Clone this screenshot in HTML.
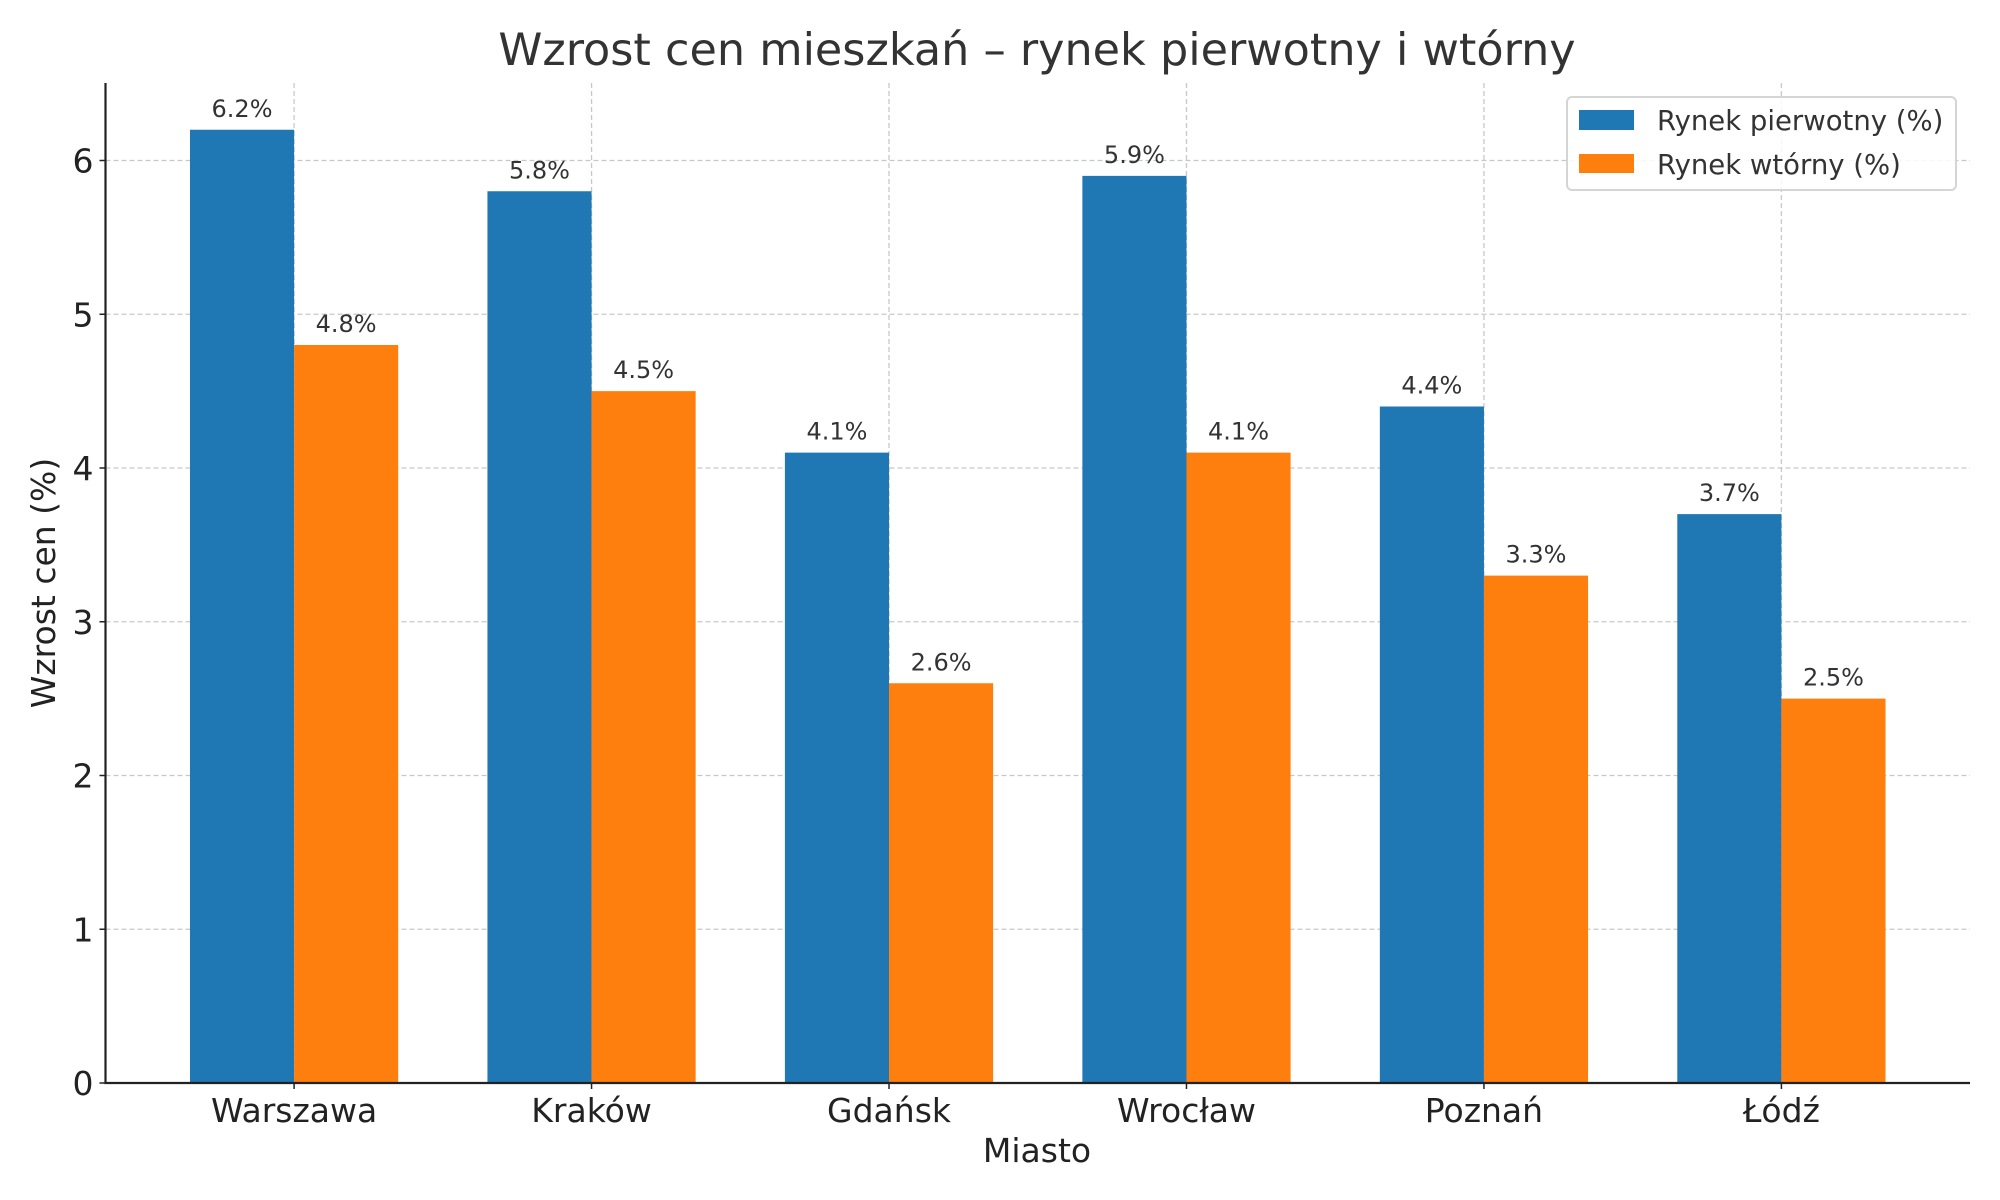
<!DOCTYPE html>
<html><head><meta charset="utf-8"><style>
html,body{margin:0;padding:0;background:#fff}
svg{display:block;font-family:"DejaVu Sans","Liberation Sans",sans-serif}
</style></head><body>
<svg id="chart" width="2000" height="1200" xmlns="http://www.w3.org/2000/svg">
<text x="1037" y="65" font-size="44.5" fill="#333" text-anchor="middle">Wzrost cen mieszkań – rynek pierwotny i wtórny</text>
<g id="grid"></g>
<g id="bars"></g>
<g id="axes"></g>
<text x="1037" y="1162" font-size="33" fill="#222" text-anchor="middle">Miasto</text>
<text transform="translate(55,583) rotate(-90)" font-size="33" fill="#222" text-anchor="middle">Wzrost cen (%)</text>
<g>
<rect x="1567" y="97" width="389" height="93" rx="5" fill="#fff" fill-opacity="0.85" stroke="#d5d5d5" stroke-width="2"/>
<rect x="1579" y="110" width="55" height="20" fill="#1f77b4"/>
<text x="1657" y="130" font-size="27.5" fill="#333">Rynek pierwotny (%)</text>
<rect x="1579" y="154" width="55" height="19" fill="#ff7f0e"/>
<text x="1657" y="174" font-size="27.5" fill="#333">Rynek wtórny (%)</text>
</g>
</svg>
<script>
const categories = ["Warszawa","Kraków","Gdańsk","Wrocław","Poznań","Łódź"];
const primaryValues = [6.2,5.8,4.1,5.9,4.4,3.7];
const secondaryValues = [4.8,4.5,2.6,4.1,3.3,2.5];
const yTicks = [0,1,2,3,4,5,6];

const NS="http://www.w3.org/2000/svg";
const L=105.5,R=1970,T=83,B=1083,yMax=(B-T)/153.75;
const xMin=-0.634, xMax=categories.length-1+0.634;
const step=(R-L)/(xMax-xMin);
const bw=step*0.35;
const xc=i=>L+(i-xMin)*step;
const y=v=>B-(v/yMax)*(B-T);
function mk(tag,attrs,parent){const e=document.createElementNS(NS,tag);for(const k in attrs)e.setAttribute(k,attrs[k]);parent.appendChild(e);return e;}
const grid=document.getElementById('grid'),bars=document.getElementById('bars'),axes=document.getElementById('axes');
yTicks.forEach(t=>{
  const g=mk('line',{x1:L,x2:R,y1:y(t),y2:y(t),stroke:'#c8c8c8','stroke-width':1.3,'stroke-dasharray':'5,3'},grid);
  
  
  const tk=mk('line',{x1:L-6,x2:L,y1:y(t),y2:y(t),stroke:'#222','stroke-width':1.5},axes);
  
  
  const tl=mk('text',{x:L-12,y:y(t)+12,'font-size':33,fill:'#222','text-anchor':'end'},axes);
  tl.textContent=t;
  
  
});
categories.forEach((c,i)=>{
  const gl=mk('line',{x1:xc(i),x2:xc(i),y1:T,y2:B,stroke:'#c8c8c8','stroke-width':1.3,'stroke-dasharray':'5,3'},grid);
  
  
  [[primaryValues,'#1f77b4',-1,'bar-primary'],[secondaryValues,'#ff7f0e',0,'bar-secondary']].forEach(([arr,col,off,nm])=>{
    const x0=xc(i)+off*bw;
    const r=mk('rect',{x:x0,y:y(arr[i]),width:bw,height:B-y(arr[i]),fill:col},bars);
    
    
    const t=mk('text',{x:x0+bw/2,y:y(arr[i])-13,'font-size':24,fill:'#333','text-anchor':'middle'},bars);
    t.textContent=arr[i].toFixed(1)+'%';
    
    
  });
  const tk=mk('line',{x1:xc(i),x2:xc(i),y1:B,y2:B+6,stroke:'#222','stroke-width':1.5},axes);
  
  
  const cl=mk('text',{x:xc(i),y:B+39,'font-size':33,fill:'#222','text-anchor':'middle'},axes);
  cl.textContent=c;
  
  
});
const ax=mk('path',{d:`M${L},${T} V${B} H${R}`,fill:'none',stroke:'#222','stroke-width':2.2},axes);


</script>
</body></html>
